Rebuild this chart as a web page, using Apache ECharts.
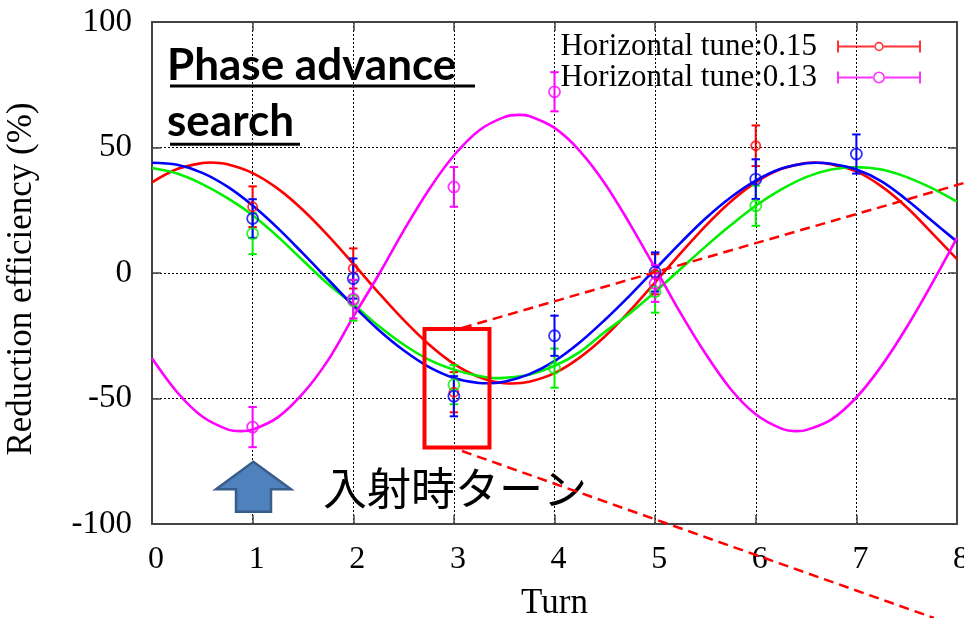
<!DOCTYPE html>
<html>
<head>
<meta charset="utf-8">
<script src="https://cdn.jsdelivr.net/npm/echarts@6/dist/echarts.min.js"></script>
<style>
html,body{margin:0;padding:0;background:#fff;}
#chart{width:964px;height:618px;}
</style>
</head>
<body>
<div id="chart"></div>
<script>
// ---- data ----
const xTicks = [0,1,2,3,4,5,6,7,8];
const yTicks = [-100,-50,0,50,100];

// fitted curves, read every 0.25 turn plus at their turning points
const redFitX = [0,0.25,0.5,0.58,0.75,1,1.25,1.5,1.75,2,2.25,2.5,2.75,3,3.25,3.5,3.58,3.75,4,4.25,4.5,4.75,5,5.25,5.5,5.75,6,6.25,6.5,6.58,6.75,7,7.25,7.5,7.75,8];
const redFitY = [36.1,41.4,43.8,44.0,43.3,39.8,33.6,25.1,14.9,3.7,-7.8,-18.7,-28.4,-36.2,-41.4,-43.9,-44.0,-43.3,-39.9,-33.7,-25.3,-15.0,-3.7,7.7,18.7,28.4,36.1,41.4,43.8,44.0,43.3,40.5,34.5,26.2,16.0,5.5];

const greenFitX = [0,0.25,0.5,0.75,1,1.25,1.5,1.75,2,2.25,2.5,2.75,3,3.25,3.42,3.5,3.75,4,4.25,4.5,4.75,5,5.25,5.5,5.75,6,6.25,6.5,6.75,7,7.25,7.5,7.75,8];
const greenFitY = [41.8,39.6,35.4,29.8,23.0,14.5,5.0,-4.4,-12.5,-21.0,-28.5,-34.5,-38.5,-41.0,-41.9,-41.8,-40.5,-37.0,-31.5,-23.5,-16.0,-7.5,1.5,10.5,19.0,26.8,33.2,38.2,41.2,42.2,41.2,38.2,33.8,28.4];

const blueFitX = [0,0.25,0.5,0.75,1,1.25,1.5,1.75,2,2.25,2.5,2.75,3,3.25,3.33,3.5,3.75,4,4.25,4.5,4.75,5,5.25,5.5,5.75,6,6.25,6.5,6.6,6.75,7,7.25,7.5,7.75,8];
const blueFitY = [43.9,43.1,39.9,34.4,26.9,17.9,7.8,-2.6,-13.0,-22.6,-30.8,-37.4,-41.8,-43.8,-43.95,-43.3,-40.3,-35.1,-27.7,-18.7,-8.9,1.5,11.9,21.7,30.1,36.8,41.5,43.7,43.9,43.5,41.2,36.5,29.2,20.8,12.5];

const magentaFitX = [0,0.25,0.5,0.75,0.88,1,1.25,1.5,1.75,2,2.25,2.5,2.75,3,3.25,3.5,3.65,3.75,4,4.25,4.5,4.75,5,5.25,5.5,5.75,6,6.25,6.41,6.5,6.75,7,7.25,7.5,7.75,8];
const magentaFitY = [-34.0,-47.5,-57.2,-62.3,-63.0,-62.4,-57.5,-48.0,-34.7,-17.5,-0.9,16.8,33.1,46.8,56.8,62.1,63.0,62.5,57.8,48.7,35.7,19.5,2.0,-15.8,-32.1,-46.2,-56.3,-61.9,-63.0,-62.6,-58.4,-49.6,-37.0,-21.6,-4.3,14.0];

// measured points with error bars
const redTurns = [1,2,3,5,6];
const redVals  = [26.4,1.8,-47.5,-0.5,50.7];
const redErr   = [8.1,8.0,8.0,8.0,8.1];

const greenTurns = [1,2,3,4,5,6];
const greenVals  = [15.7,-11.0,-44.5,-37.9,-7.5,26.8];
const greenErr   = [8.2,8.0,7.8,7.8,8.3,8.0];

const blueTurns = [1,2,3,4,5,6,7];
const blueVals  = [21.7,-2.2,-49.1,-25.0,0.4,37.4,47.4];
const blueErr   = [7.7,8.0,8.0,8.0,7.8,7.9,7.8];

const magentaTurns = [1,2,3,4,5];
const magentaVals  = [-61.4,-10.4,34.3,72.2,-4.2];
const magentaErr   = [8.0,7.7,7.9,7.8,7.3];

const legendNames = ['Horizontal tune:0.15','Horizontal tune:0.13'];

// ---- chart ----
const RED='#ff0000', GREEN='#00f000', BLUE='#0000ff', MAG='#ff00ff';
const SERIF='"Liberation Serif","Times New Roman",serif';

function pairs(xs, ys){ return xs.map((x,i)=>[x, ys[i]]); }
function triples(xs, ys, es){ return xs.map((x,i)=>[x, ys[i], es[i]]); }

function fitSeries(name, color, xs, ys){
  return {type:'line', name:name, data:pairs(xs, ys), smooth:0.35, showSymbol:false,
    lineStyle:{color:color, width:2.6}, itemStyle:{color:color}, silent:true, z:2};
}
function errSeries(name, color, xs, ys, es){
  return {type:'custom', name:name, data:triples(xs, ys, es), encode:{x:0,y:1}, z:3, silent:true,
    renderItem:function(params, api){
      const x=api.value(0), y=api.value(1), e=api.value(2);
      const t=api.coord([x,y+e]), b=api.coord([x,y-e]);
      const hw=4.2, st={stroke:color, lineWidth:2};
      return {type:'group', children:[
        {type:'line', shape:{x1:t[0],y1:t[1],x2:b[0],y2:b[1]}, style:st},
        {type:'line', shape:{x1:t[0]-hw,y1:t[1],x2:t[0]+hw,y2:t[1]}, style:st},
        {type:'line', shape:{x1:b[0]-hw,y1:b[1],x2:b[0]+hw,y2:b[1]}, style:st}
      ]};
    }};
}
function ptSeries(name, color, xs, ys, size){
  return {type:'scatter', name:name, data:pairs(xs, ys), symbol:'circle', symbolSize:size, z:4, silent:true,
    itemStyle:{color:'rgba(0,0,0,0)', borderColor:color, borderWidth:1.8}};
}

const iconRed = 'path://M0 0H2V12H0Z M82 0H84V12H82Z M2 5.1H37.6V6.9H2Z M46.4 5.1H82V6.9H46.4Z M37.3 6A4.7 4.7 0 1 0 46.7 6A4.7 4.7 0 1 0 37.3 6Z M38.9 6A3.1 3.1 0 1 1 45.1 6A3.1 3.1 0 1 1 38.9 6Z';
const iconMag = 'path://M0 0H2V12H0Z M82 0H84V12H82Z M2 5.1H36.3V6.9H2Z M47.7 5.1H82V6.9H47.7Z M36 6A6 6 0 1 0 48 6A6 6 0 1 0 36 6Z M37.6 6A4.4 4.4 0 1 1 46.4 6A4.4 4.4 0 1 1 37.6 6Z';

const axisLineStyle = {color:'#444', width:2};
const tickStyle = {color:'#444', width:1.5};
const gridLine = {show:true, lineStyle:{color:'#000', width:1, type:[2,2]}};

const option = {
  animation:false,
  backgroundColor:'#fff',
  grid:{left:152, right:7, top:22, bottom:94, outerBoundsMode:'none', containLabel:false},
  legend:{
    data:[
      {name:legendNames[0], icon:iconRed, itemStyle:{color:RED, borderWidth:0}},
      {name:legendNames[1], icon:iconMag, itemStyle:{color:MAG, borderWidth:0}}
    ],
    orient:'vertical', right:43, top:31, align:'right', padding:0,
    itemWidth:84, itemHeight:12, itemGap:0, selectedMode:false,
    textStyle:{fontFamily:SERIF, fontSize:31, color:'#000', lineHeight:31, padding:[0,15,0,0]}
  },
  xAxis:[
    {type:'value', min:xTicks[0], max:xTicks[xTicks.length-1], interval:1, position:'bottom',
      axisLine:{show:true, onZero:false, lineStyle:axisLineStyle},
      axisTick:{show:true, inside:true, length:9, lineStyle:tickStyle},
      axisLabel:{fontFamily:SERIF, fontSize:32, color:'#000', margin:20, padding:[0,0,0,8]},
      splitLine:gridLine,
      name:'Turn', nameLocation:'middle', nameGap:62,
      nameTextStyle:{fontFamily:SERIF, fontSize:35, color:'#000'}},
    {type:'value', min:xTicks[0], max:xTicks[xTicks.length-1], interval:1, position:'top',
      axisLine:{show:true, onZero:false, lineStyle:axisLineStyle},
      axisTick:{show:true, inside:true, length:9, lineStyle:tickStyle},
      axisLabel:{show:false}, splitLine:{show:false}}
  ],
  yAxis:[
    {type:'value', min:yTicks[0], max:yTicks[yTicks.length-1], interval:50, position:'left',
      axisLine:{show:true, onZero:false, lineStyle:axisLineStyle},
      axisTick:{show:true, inside:true, length:9, lineStyle:tickStyle},
      axisLabel:{fontFamily:SERIF, fontSize:33, color:'#000', margin:20},
      splitLine:gridLine},
    {type:'value', min:yTicks[0], max:yTicks[yTicks.length-1], interval:50, position:'right',
      axisLine:{show:true, onZero:false, lineStyle:axisLineStyle},
      axisTick:{show:true, inside:true, length:9, lineStyle:tickStyle},
      axisLabel:{show:false}, splitLine:{show:false}}
  ],
  series:[
    fitSeries('fit 0.15', RED, redFitX, redFitY),
    fitSeries('fit green', GREEN, greenFitX, greenFitY),
    fitSeries('fit blue', BLUE, blueFitX, blueFitY),
    fitSeries('fit 0.13', MAG, magentaFitX, magentaFitY),
    errSeries('err 0.15', RED, redTurns, redVals, redErr),
    ptSeries(legendNames[0], RED, redTurns, redVals, 9),
    errSeries('err green', GREEN, greenTurns, greenVals, greenErr),
    ptSeries('pts green', GREEN, greenTurns, greenVals, 11),
    errSeries('err blue', BLUE, blueTurns, blueVals, blueErr),
    ptSeries('pts blue', BLUE, blueTurns, blueVals, 11),
    errSeries('err 0.13', MAG, magentaTurns, magentaVals, magentaErr),
    ptSeries(legendNames[1], MAG, magentaTurns, magentaVals, 11)
  ],
  graphic:[
    {type:'text', x:21.5, y:279, rotation:Math.PI/2, z:10,
      style:{text:'Reduction efficiency (%)', font:'35px '+SERIF, fill:'#000', align:'center', verticalAlign:'middle'}},
    {type:'text', x:167, y:66, z:10,
      style:{text:'Phase advance ', font:'bold 44px Lato', fill:'#000', align:'left', verticalAlign:'middle'}},
    {type:'text', x:167, y:122, z:10,
      style:{text:'search', font:'bold 44px Lato', fill:'#000', align:'left', verticalAlign:'middle'}},
    {type:'line', z:10, shape:{x1:170,y1:86,x2:475,y2:86}, style:{stroke:'#000', lineWidth:3}},
    {type:'line', z:10, shape:{x1:170,y1:144.3,x2:300,y2:144.3}, style:{stroke:'#000', lineWidth:3}},
    {type:'polygon', z:10, shape:{points:[[253.3,461.7],[291,489.3],[271,489.3],[271,511.7],[236,511.7],[236,489.3],[216,489.3]]},
      style:{fill:'#4f81bd', stroke:'#385d8a', lineWidth:2.5}},
    {type:'text', x:323, y:488, z:10,
      style:{text:'入射時ターン', font:'44px "Noto Sans CJK JP"', fill:'#000', align:'left', verticalAlign:'middle'}},
    {type:'rect', z:11, shape:{x:424.5, y:329, width:65, height:118.5}, style:{fill:'none', stroke:'#ff0000', lineWidth:4}},
    {type:'line', z:11, shape:{x1:462,y1:328,x2:964,y2:183}, style:{stroke:'#ff0000', lineWidth:2.5, lineDash:[10,6]}},
    {type:'line', z:11, shape:{x1:462,y1:451,x2:934,y2:618}, style:{stroke:'#ff0000', lineWidth:2.5, lineDash:[10,6]}}
  ]
};

const chart = echarts.init(document.getElementById('chart'), null, {renderer:'canvas'});
chart.setOption(option);
</script>
</body>
</html>
